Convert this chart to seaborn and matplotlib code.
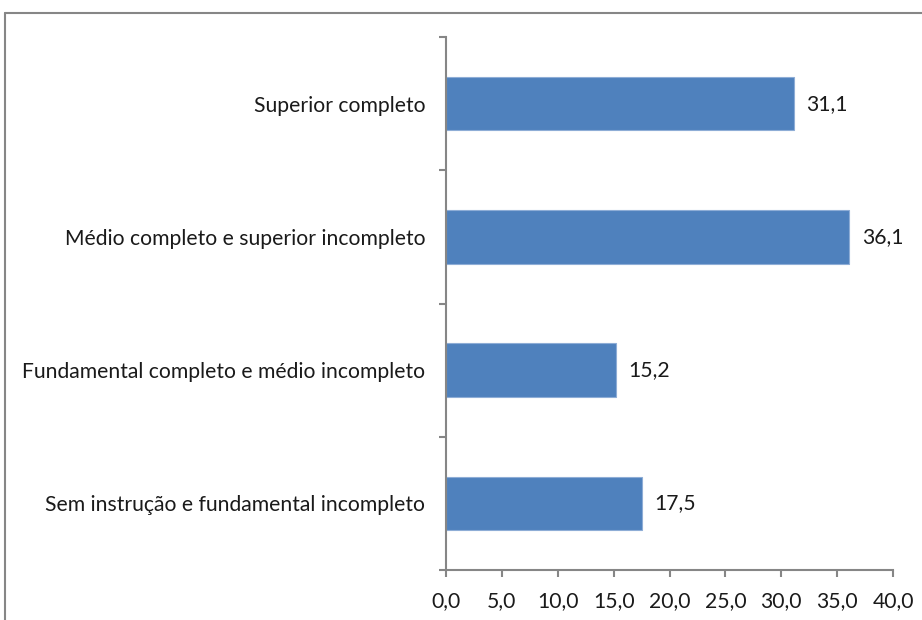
import matplotlib
matplotlib.use("Agg")
import matplotlib.pyplot as plt
import seaborn as sns
import pandas as pd
from matplotlib.lines import Line2D

categorias = [
    "Superior completo",
    "Médio completo e superior incompleto",
    "Fundamental completo e médio incompleto",
    "Sem instrução e fundamental incompleto",
]
valores = [31.1, 36.1, 15.2, 17.5]
xticks = [0, 5, 10, 15, 20, 25, 30, 35, 40]

sns.set_theme(style="white")
plt.rcParams["font.family"] = ["Lato", "DejaVu Sans"]

df = pd.DataFrame({"cat": categorias, "val": valores})

fig = plt.figure(figsize=(9.22, 6.2), dpi=100)
ax = fig.add_axes([446 / 922, 50 / 620, 447 / 922, 533 / 620])

sns.barplot(data=df, x="val", y="cat", orient="h", color="#4F81BD",
            width=0.4, edgecolor="#8EADD6", linewidth=0.8, saturation=1, ax=ax)

ax.set_xlim(0, 40)
ax.set_ylim(len(categorias) - 0.5, -0.5)
ax.set_xlabel("")
ax.set_ylabel("")

axcol = "#868686"
txt = "#1a1a1a"
fs = 15.2
for s in ["top", "right"]:
    ax.spines[s].set_visible(False)
for s in ["left", "bottom"]:
    ax.spines[s].set_color(axcol)
    ax.spines[s].set_linewidth(1.5)

ax.set_xticks(xticks)
ax.set_xticklabels([f"{t:.1f}".replace(".", ",") for t in xticks])
ax.tick_params(axis="x", direction="out", length=5, width=1.5, color=axcol,
               pad=10, labelsize=fs, labelcolor=txt, bottom=True)

# y: major ticks at category boundaries, labels on minor ticks
ax.set_yticks([i - 0.5 for i in range(len(categorias) + 1)])
ax.set_yticklabels([])
ax.set_yticks(range(len(categorias)), minor=True)
ax.set_yticklabels(categorias, minor=True)
ax.tick_params(axis="y", which="major", direction="out", length=5, width=1.5,
               color=axcol, left=True)
ax.tick_params(axis="y", which="minor", length=0, pad=15, labelsize=fs,
               labelcolor=txt, left=True)

for i, v in enumerate(valores):
    ax.annotate(f"{v:.1f}".replace(".", ","), xy=(v, i), xytext=(9, 0),
                textcoords="offset points", va="center", ha="left",
                fontsize=fs, color=txt)

# outer frame (only top and left visible)
fig.add_artist(Line2D([5 / 922, 5 / 922], [0, 1 - 13 / 620],
                      transform=fig.transFigure, color=axcol, lw=1.5))
fig.add_artist(Line2D([5 / 922, 1], [1 - 13 / 620, 1 - 13 / 620],
                      transform=fig.transFigure, color=axcol, lw=1.5))

fig.savefig("out.png", dpi=100)
